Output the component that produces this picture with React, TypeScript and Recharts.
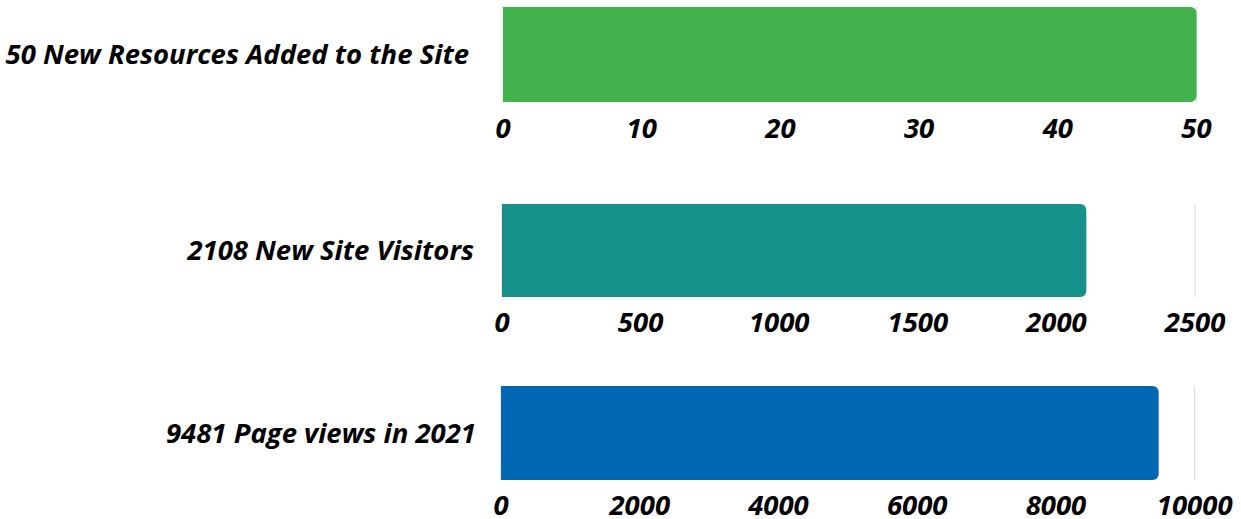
import { BarChart, Bar, XAxis, YAxis, CartesianGrid } from "recharts";

const labels = ["50 New Resources Added to the Site", "2108 New Site Visitors", "9481 Page views in 2021"];
const values = [50, 2108, 9481];
const maxima = [50, 2500, 10000];
const tickSets = [
  [0, 10, 20, 30, 40, 50],
  [0, 500, 1000, 1500, 2000, 2500],
  [0, 2000, 4000, 6000, 8000, 10000],
];
const colors = ["#44B14F", "#15918A", "#0067B2"];

// layout per panel: bar top, bar height, plot left / right, gap under bar for ticks, label offset, axis height
const panels = [
  { top: 7, bar: 95, left: 503, right: 1196.5, gap: 16, lab: 34, axisH: 50 },
  { top: 204, bar: 93, left: 502, right: 1195, gap: 15, lab: 28, axisH: 50 },
  { top: 386, bar: 94, left: 501, right: 1194.7, gap: 15, lab: 25, axisH: 39 },
];

const font = { fontFamily: "'Open Sans', sans-serif", fontWeight: 700, fontStyle: "italic" as const };

function Panel({ i }: { i: number }) {
  const p = panels[i];
  const data = [{ name: labels[i], value: values[i] }];
  const padTop = 5;
  return (
    <div style={{ position: "absolute", left: 0, top: p.top - padTop }}>
      <BarChart
        width={1241}
        height={padTop + p.bar + p.axisH}
        data={data}
        layout="vertical"
        barCategoryGap={0}
        margin={{ top: padTop, right: 1241 - p.right, bottom: 0, left: 0 }}
      >
        <CartesianGrid horizontal={false} stroke="#D9D9D9" />
        <XAxis
          type="number"
          domain={[0, maxima[i]]}
          ticks={tickSets[i]}
          height={p.axisH}
          axisLine={false}
          tickLine={false}
          tickSize={0}
          tickMargin={p.gap}
          interval={0}
          tick={{ fontSize: 27.5, fill: "#000", ...font }}
        />
        <YAxis
          type="category"
          dataKey="name"
          width={p.left}
          axisLine={false}
          tickLine={false}
          tickSize={0}
          tickMargin={p.lab}
          tick={{ fontSize: 27.5, fill: "#000", ...font }}
        />
        <Bar dataKey="value" fill={colors[i]} radius={[0, 6, 6, 0]} isAnimationActive={false} />
      </BarChart>
    </div>
  );
}

export default function App() {
  return (
    <div style={{ position: "absolute", left: 0, top: 0, width: 1241, height: 519, background: "#fff" }}>
      {panels.map((_, i) => (
        <Panel key={i} i={i} />
      ))}
    </div>
  );
}
